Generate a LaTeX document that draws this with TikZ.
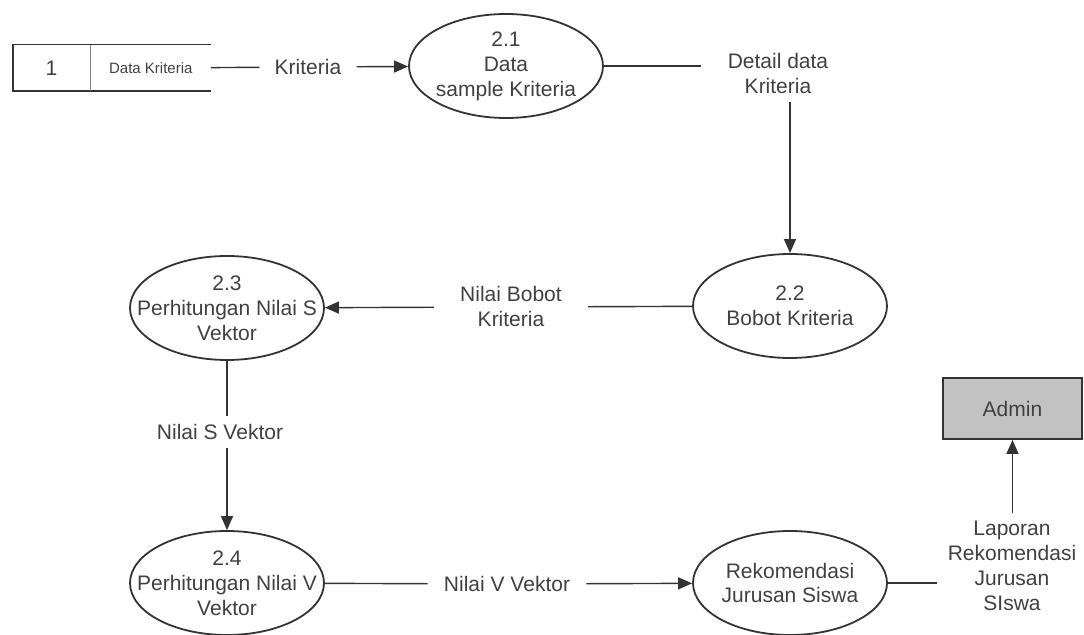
\documentclass[tikz,border=0pt]{standalone}
\usepackage{fontspec}
\setmainfont{Liberation Sans}
\usepackage{tikz}
\usetikzlibrary{arrows.meta, positioning, shapes.geometric}
\definecolor{dfdline}{rgb}{0.2, 0.2, 0.2}
\definecolor{dfdtext}{rgb}{0.25, 0.25, 0.25}
\definecolor{dfdentity}{rgb}{0.76, 0.76, 0.76}
\definecolor{dfddivider}{rgb}{0.5, 0.5, 0.5}

\begin{document}
\begin{tikzpicture}[
x=0.5pt, y=-0.5pt,
every node/.style = {font=\fontsize{10.5pt}{12.5pt}\selectfont, text=dfdtext},
texts/.style = {align=center},
flowline/.style = {draw=dfdline, line width=0.7pt},
flowarrow/.style = {flowline, -{Triangle[length=7pt, width=6pt]}},
flowlabel/.style = {texts, inner xsep=8pt, inner ysep=4pt},
process/.style = {ellipse, draw=dfdline, line width=0.9pt, inner sep=0pt, minimum width=97pt, minimum height=52pt},
proctext/.style = {texts},
entity/.style = {rectangle, draw=dfdline, line width=0.9pt, fill=dfdentity, minimum width=69.5pt, minimum height=30.5pt},
storecell/.style = {inner sep=0pt, minimum height=23pt},
storeline/.style = {draw=dfdline, line width=0.9pt}
]
\useasboundingbox (0,0) rectangle (1084,635);

% data store
\node[storecell, minimum width=38.5pt] (storeid) at (51.5,68) {1};
\node[storecell, minimum width=60pt, right=0pt of storeid, font=\fontsize{7.5pt}{9pt}\selectfont] (storename) {Data Kriteria};
\draw[storeline] (storename.north east) -- (storeid.north west) -- (storeid.south west) -- (storename.south east);
\draw[draw=dfddivider, line width=0.8pt] (storeid.north east) -- (storeid.south east);

% processes
\node[process, label={[proctext]center:{2.1\\Data\\sample Kriteria}}] (p21) at (506,66) {};
\node[process, label={[proctext]center:{2.2\\Bobot Kriteria}}] (p22) at (790,306) {};
\node[process, label={[proctext]center:{2.3\\Perhitungan Nilai S\\Vektor}}] (p23) at (227,308) {};
\node[process, label={[proctext]center:{2.4\\Perhitungan Nilai V\\Vektor}}] (p24) at (227,583) {};
\node[process, label={[proctext]center:{Rekomendasi\\Jurusan Siswa}}] (p25) at (790,583) {};
\node[entity] (admin) at (1012.5,408.5) {Admin};

% flow labels
\node[flowlabel, inner xsep=7.5pt] (kriteria) at (308,67) {Kriteria};
\node[flowlabel, inner xsep=13pt] (detail) at (778,73.5) {Detail data\\Kriteria};
\node[flowlabel, inner xsep=13pt] (bobot) at (511,307) {Nilai Bobot\\Kriteria};
\node[flowlabel] (nilais) at (220,432) {Nilai S Vektor};
\node[flowlabel] (nilaiv) at (507,584) {Nilai V Vektor};
\node[flowlabel, inner xsep=5pt] (laporan) at (1012,566) {Laporan\\Rekomendasi\\Jurusan\\SIswa};

\draw[flowline] (storename) -- (kriteria);
\draw[flowarrow] (kriteria) -- (p21);
\draw[flowline] (p21) -- (p21 -| detail.west);
\draw[flowarrow] (detail.south -| p22) -- (p22);
\draw[flowline] (p22) -- (bobot);
\draw[flowarrow] (bobot) -- (p23);
\draw[flowline] (p23) -- (p23 |- nilais.north);
\draw[flowarrow] (p23 |- nilais.south) -- (p24);
\draw[flowline] (p24) -- (nilaiv);
\draw[flowarrow] (nilaiv) -- (p25);
\draw[flowline] (p25) -- (p25 -| laporan.west);
\draw[flowarrow] (laporan.north -| admin) -- (admin);
\end{tikzpicture}
\end{document}
